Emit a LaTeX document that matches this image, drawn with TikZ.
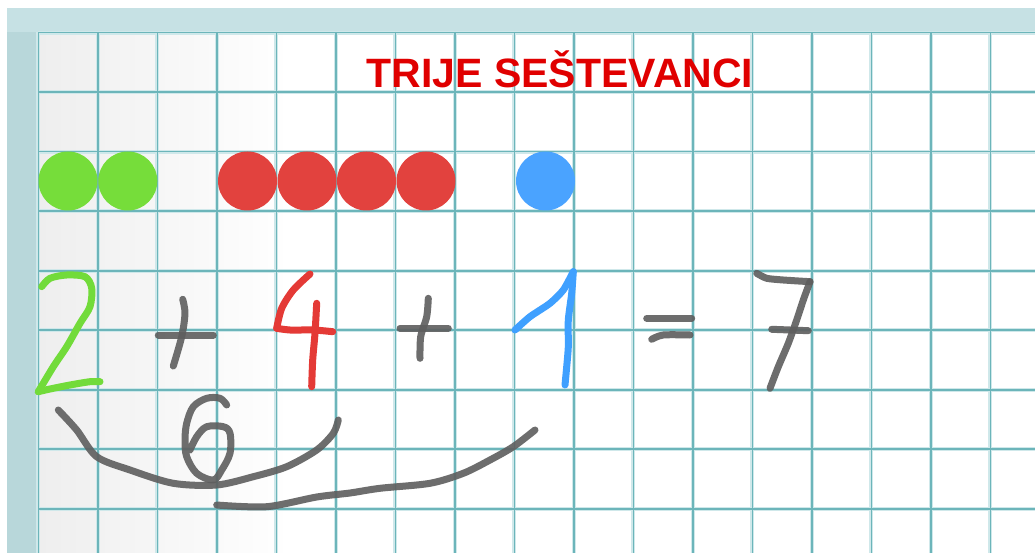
\documentclass[tikz,border=0pt]{standalone}
\usepackage{fontspec}
\newfontfamily\titlefont{Liberation Sans}
\begin{document}
\begin{tikzpicture}[x=1pt,y=-1pt,
  gridhalo/.style={line width=4pt,color=gridlight},
  gridline/.style={line width=1.6pt,color=gridteal},
  dot/.style={circle,minimum size=59pt,inner sep=0pt,draw=none},
  pen/.style={line width=7pt,line cap=round,line join=round},
  greypen/.style={pen,color=pengrey,opacity=0.9},
  title/.style={font=\titlefont\bfseries\fontsize{41}{49}\selectfont,text=titlered,anchor=base,inner sep=0pt}]
\definecolor{frameblue}{HTML}{C6E1E4}
\definecolor{frameleft}{HTML}{B8D7DA}
\definecolor{gridlight}{HTML}{CFE8EA}
\definecolor{gridteal}{HTML}{6CB5BA}
\definecolor{titlered}{HTML}{E00000}
\definecolor{dotgreen}{HTML}{76DD3A}
\definecolor{dotred}{HTML}{E2423E}
\definecolor{dotblue}{HTML}{4AA3FF}
\definecolor{pengreen}{HTML}{72DB3A}
\definecolor{penred}{HTML}{E43A36}
\definecolor{penblue}{HTML}{3FA0FF}
\definecolor{pengrey}{HTML}{5E5E5E}
\definecolor{papergrey}{HTML}{EEEEEE}
\useasboundingbox (0,0) rectangle (1035,553);
\fill[white] (0,0) rectangle (1035,553);
% frame
\fill[frameblue] (7,8) rectangle (1035,553);
\fill[frameleft] (7,32) rectangle (38,553);
% paper
\fill[white] (38,32) rectangle (1035,553);
\shade[left color=papergrey,right color=white] (38,32) rectangle (290,553);
% grid
\foreach \k in {0,...,16} {
  \draw[gridhalo] ({38.3+\k*59.5},32) -- ({38.3+\k*59.5},553);
}
\foreach \k in {0,...,8} {
  \draw[gridhalo] (38,{32.7+\k*59.5}) -- (1035,{32.7+\k*59.5});
}
\foreach \k in {0,...,16} {
  \draw[gridline] ({38.3+\k*59.5},32) -- ({38.3+\k*59.5},553);
}
\foreach \k in {0,...,8} {
  \draw[gridline] (38,{32.7+\k*59.5}) -- (1035,{32.7+\k*59.5});
}
% title
\node[title] (ttl) at (560,88) {TRIJE SEŠTEVANCI};
% dots
\node[dot,fill=dotgreen] (g1) at (68,181) {};
\node[dot,fill=dotgreen] (g2) at (127.8,181) {};
\node[dot,fill=dotred] (r1) at (247.5,181) {};
\node[dot,fill=dotred] (r2) at (307,181) {};
\node[dot,fill=dotred] (r3) at (366.5,181) {};
\node[dot,fill=dotred] (r4) at (426,181) {};
\node[dot,fill=dotblue] (b1) at (545.5,181) {};
% handwritten 2
\draw[pen,color=pengreen] plot[smooth,tension=0.5] coordinates {(41.7,286.7) (50,278.3) (66.7,275) (85,276.7) (91.7,288) (90,306.7) (80,323.3) (66.7,346.7) (53.3,366.7) (38.3,391.7)};
\draw[pen,color=pengreen] plot[smooth,tension=0.5] coordinates {(38.3,391.7) (50,389) (70,385) (90,381.7) (100,381.7)};
% plus 1
\draw[greypen] (158.3,335) -- (213.3,335);
\draw[greypen] plot[smooth,tension=0.5] coordinates {(182.7,299.3) (185,313.3) (181.7,336.7) (173.3,366)};
% handwritten 4
\draw[pen,color=penred] plot[smooth,tension=0.5] coordinates {(310,274) (293.3,290) (281.7,308.3) (276.7,328.3)};
\draw[pen,color=penred] plot[smooth,tension=0.5] coordinates {(276.7,328.3) (290,330) (313.3,330) (332.7,331.7)};
\draw[pen,color=penred] plot[smooth,tension=0.5] coordinates {(316.7,303.3) (315,333.3) (312.7,360) (311.7,386.7)};
% plus 2
\draw[greypen] (400,328.3) -- (448.3,328.3);
\draw[greypen] plot[smooth,tension=0.5] coordinates {(428.3,298.3) (426.7,316.7) (420.7,336.7) (420,358.3)};
% handwritten 1
\draw[pen,color=penblue] plot[smooth,tension=0.4] coordinates {(515,330) (530,316.7) (550,303.3) (563.3,290) (573.3,271.7)};
\draw[pen,color=penblue] plot[smooth,tension=0.4] coordinates {(573.3,271.7) (571.7,293.3) (568.3,320) (568.3,346.7) (566.7,366.7) (565,385)};
% equals
\draw[greypen] (646.7,318.3) -- (691.7,318.3);
\draw[greypen] plot[smooth,tension=0.5] coordinates {(651.7,339.3) (663.3,335) (690,335)};
% handwritten 7
\draw[greypen] plot[smooth,tension=0.4] coordinates {(756.7,273.3) (766.7,278.3) (783.3,280) (810,281.7)};
\draw[greypen] plot[smooth,tension=0.4] coordinates {(810,281.7) (803.3,300) (796.7,320) (788.3,343.3) (778.3,366.7) (770,388.3)};
\draw[greypen] (771.7,329.3) -- (808.3,330.7);
% six
\draw[greypen] plot[smooth,tension=0.55] coordinates {(226.7,405) (220,398.3) (206.7,398.3) (193.3,406.7) (186.7,423.3) (185,440) (186.7,456.7) (196.7,473.3) (213.3,480) (221.7,470) (230,453.3) (230,433.3) (223.3,426.7) (206.7,426.7) (196.7,436.7) (190,450)};
% brace arcs
\draw[greypen] plot[smooth,tension=0.5] coordinates {(58.3,410) (76.7,430) (96.7,456.7) (130,470) (173.3,483.3) (216.7,485) (253.3,476.7) (286.7,466.7) (316.7,450) (333.3,433.3) (338.3,420)};
\draw[greypen] plot[smooth,tension=0.5] coordinates {(216.7,505) (266.7,506.7) (316.7,497) (350,493) (380,488.3) (430,483.3) (463.3,473.3) (490,460) (513.3,446.7) (535,430)};
\end{tikzpicture}
\end{document}
